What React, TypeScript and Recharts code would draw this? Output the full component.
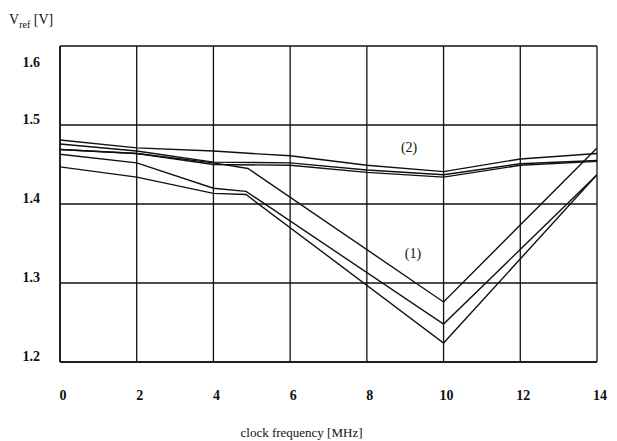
import React from "react";
import { CartesianGrid, Label, Line, LineChart, ReferenceDot, XAxis, YAxis } from "recharts";

const INK = "#111";
const FONT = "'Liberation Serif', 'DejaVu Serif', serif";

const xTicks = [0, 2, 4, 6, 8, 10, 12, 14];
const yTicks = [1.2, 1.3, 1.4, 1.5, 1.6];

// group (2): nearly flat curves
const upperX = [0, 2, 4, 6, 8, 10, 12, 14];
const upperA = [1.481, 1.471, 1.467, 1.461, 1.449, 1.441, 1.457, 1.464];
const upperB = [1.476, 1.467, 1.453, 1.452, 1.443, 1.437, 1.451, 1.455];
const upperC = [1.469, 1.464, 1.45, 1.449, 1.44, 1.434, 1.449, 1.454];

// group (1): curves with the V dip at 10 MHz
const lowerAX = [0, 2, 4, 4.9, 10, 14];
const lowerA = [1.469, 1.464, 1.452, 1.445, 1.276, 1.471];
const lowerBCX = [0, 2, 4, 4.85, 10, 14];
const lowerB = [1.463, 1.452, 1.42, 1.416, 1.248, 1.437];
const lowerC = [1.447, 1.434, 1.4135, 1.412, 1.224, 1.437];

const notes = [
  { x: 9.1, y: 1.4725, text: "(2)" },
  { x: 9.2, y: 1.3376, text: "(1)" },
];

const toPts = (xs: number[], ys: number[]) => xs.map((x, i) => ({ x, y: ys[i] }));

const series = [
  toPts(upperX, upperA),
  toPts(upperX, upperB),
  toPts(upperX, upperC),
  toPts(lowerAX, lowerA),
  toPts(lowerBCX, lowerB),
  toPts(lowerBCX, lowerC),
];

function XTick(props: any) {
  const { x, y, payload } = props;
  return (
    <text x={x + 3} y={y + 30} textAnchor="middle" fontFamily={FONT} fontSize={14} fontWeight="bold" fill={INK}>
      {payload.value}
    </text>
  );
}

function YTick(props: any) {
  const { y, payload } = props;
  const dy = payload.value >= 1.6 ? 21 : -1;
  return (
    <text x={40} y={y + dy} textAnchor="end" fontFamily={FONT} fontSize={14} fontWeight="bold" fill={INK}>
      {payload.value.toFixed(1)}
    </text>
  );
}

export default function App() {
  return (
    <div style={{ position: "absolute", left: 0, top: 0, width: 617, height: 441, background: "#fff" }}>
      <div
        style={{
          position: "absolute",
          left: 9,
          top: 12,
          fontFamily: FONT,
          fontSize: 14,
          color: INK,
          whiteSpace: "nowrap",
        }}
      >
        V<sub style={{ fontSize: 10 }}>ref</sub> [V]
      </div>
      <LineChart width={617} height={441} margin={{ top: 46, right: 20, bottom: 0, left: 0 }}>
        <CartesianGrid stroke={INK} strokeWidth={1.3} />
        <XAxis
          type="number"
          dataKey="x"
          domain={[0, 14]}
          ticks={xTicks}
          interval={0}
          height={79}
          tickLine={false}
          axisLine={{ stroke: INK, strokeWidth: 1.5 }}
          tick={<XTick />}
          allowDataOverflow
        >
          <Label
            value="clock frequency [MHz]"
            position="insideBottom"
            offset={4}
            dx={-27}
            fill={INK}
            style={{ fontFamily: FONT, fontSize: 13 }}
          />
        </XAxis>
        <YAxis
          type="number"
          dataKey="y"
          domain={[1.2, 1.6]}
          ticks={yTicks}
          interval={0}
          width={60}
          tickLine={false}
          axisLine={{ stroke: INK, strokeWidth: 1.5 }}
          tick={<YTick />}
          allowDataOverflow
        />
        {series.map((d, i) => (
          <Line
            key={i}
            data={d}
            dataKey="y"
            type="linear"
            stroke={INK}
            strokeWidth={1.4}
            dot={false}
            activeDot={false}
            isAnimationActive={false}
          />
        ))}
        {notes.map((n) => (
          <ReferenceDot
            key={n.text}
            x={n.x}
            y={n.y}
            r={0}
            fill="none"
            stroke="none"
            label={{ value: n.text, position: "center", fill: INK, fontFamily: FONT, fontSize: 14 }}
          />
        ))}
      </LineChart>
    </div>
  );
}
